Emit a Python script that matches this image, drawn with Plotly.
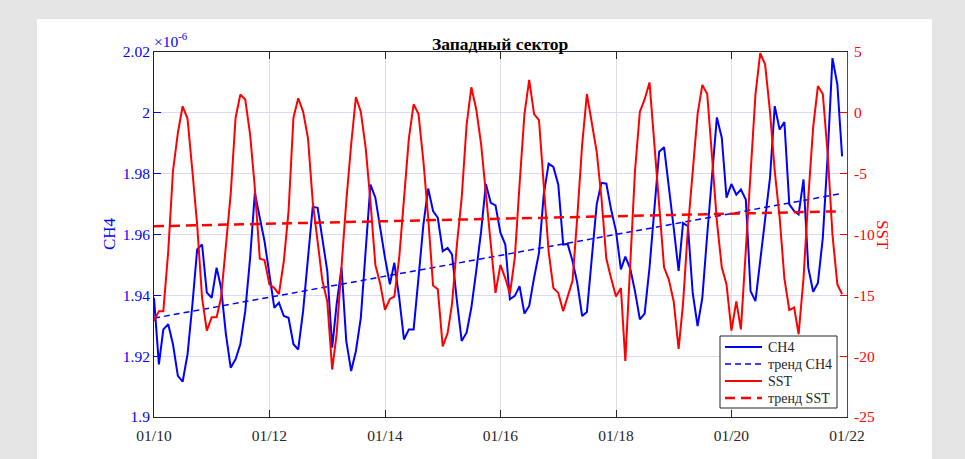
import pandas as pd
import plotly.graph_objects as go

# ---------------- data (monthly, Jan 2010 - Dec 2021) ----------------
months = pd.date_range("2010-01-01", periods=144, freq="MS")

# CH4, units of 1e-6
ch4 = [
    1.9392, 1.9173, 1.9288, 1.9305, 1.9239, 1.9135, 1.9116, 1.9206, 1.9370, 1.9551, 1.9567, 1.9409,
    1.9392, 1.9491, 1.9425, 1.9272, 1.9162, 1.9190, 1.9239, 1.9348, 1.9523, 1.9737, 1.9655, 1.9578,
    1.9469, 1.9359, 1.9376, 1.9332, 1.9326, 1.9239, 1.9222, 1.9348, 1.9523, 1.9691, 1.9688, 1.9578,
    1.9480, 1.9228, 1.9370, 1.9491, 1.9250, 1.9151, 1.9217, 1.9326, 1.9545, 1.9764, 1.9721, 1.9622,
    1.9523, 1.9436, 1.9507, 1.9392, 1.9255, 1.9288, 1.9288, 1.9458, 1.9633, 1.9751, 1.9677, 1.9655,
    1.9545, 1.9556, 1.9534, 1.9381, 1.9250, 1.9277, 1.9359, 1.9480, 1.9611, 1.9766, 1.9704, 1.9696,
    1.9606, 1.9567, 1.9387, 1.9398, 1.9430, 1.9340, 1.9365, 1.9458, 1.9540, 1.9731, 1.9833, 1.9822,
    1.9764, 1.9567, 1.9569, 1.9513, 1.9441, 1.9332, 1.9345, 1.9523, 1.9699, 1.9770, 1.9767, 1.9682,
    1.9611, 1.9485, 1.9527, 1.9488, 1.9414, 1.9321, 1.9340, 1.9491, 1.9699, 1.9872, 1.9887, 1.9764,
    1.9622, 1.9480, 1.9638, 1.9627, 1.9409, 1.9299, 1.9392, 1.9600, 1.9786, 1.9985, 1.9918, 1.9721,
    1.9766, 1.9731, 1.9748, 1.9715, 1.9414, 1.9381, 1.9513, 1.9644, 1.9786, 2.0022, 1.9945, 1.9970,
    1.9699, 1.9677, 1.9666, 1.9781, 1.9491, 1.9412, 1.9441, 1.9589, 1.9863, 2.0180, 2.0093, 1.9857,
]

sst = [
    -17.1, -16.3, -16.3, -11.4, -4.8, -1.65, 0.54, -0.47, -4.8, -9.2, -15.2, -17.9,
    -16.8, -16.8, -15.2, -10.8, -6.7, -0.4, 1.5, 1.1, -1.8, -6.2, -12.0, -12.1,
    -14.1, -14.4, -14.9, -12.2, -8.1, -0.4, 1.2, 0.1, -2.1, -7.3, -10.8, -13.8,
    -15.5, -21.1, -18.2, -12.2, -7.3, -2.6, 1.3, 0.1, -2.9, -7.3, -12.5, -14.0,
    -16.2, -15.3, -15.1, -11.9, -7.0, -2.1, 0.7, -0.1, -4.0, -8.6, -14.2, -14.5,
    -19.2, -18.1, -15.7, -10.8, -7.0, -1.0, 2.1, 0.3, -2.6, -6.7, -10.3, -14.8,
    -12.5, -13.6, -14.9, -11.9, -5.9, -0.1, 2.7, -0.1, -0.6, -6.2, -11.4, -14.4,
    -14.8, -16.3, -15.2, -13.8, -8.6, -2.6, 1.55, -0.7, -3.2, -7.0, -12.0, -13.6,
    -15.1, -14.4, -20.4, -12.5, -4.8, 0.1, 1.1, 2.5, -2.6, -7.5, -12.7, -13.7,
    -15.5, -19.4, -15.7, -9.45, -5.1, -0.1, 2.3, 1.55, -3.7, -8.9, -12.7, -14.1,
    -17.9, -15.5, -17.8, -11.4, -5.1, 1.5, 4.9, 4.0, 0.1, -4.8, -8.6, -13.6,
    -16.2, -16.0, -18.2, -13.6, -7.0, -1.2, 2.2, 1.55, -3.4, -10.0, -14.1, -14.9,
]

# linear trends (start / end values)
trend_x = [months[0], months[-1]]
ch4_trend = [1.9325, 1.9735]
sst_trend = [-9.32, -8.09]

# axis ticks
x_tickvals = ["2010-01-01", "2012-01-01", "2014-01-01", "2016-01-01",
              "2018-01-01", "2020-01-01", "2022-01-01"]
x_ticktext = ["01/10", "01/12", "01/14", "01/16", "01/18", "01/20", "01/22"]
y1_tickvals = [1.90, 1.92, 1.94, 1.96, 1.98, 2.00, 2.02]
y1_ticktext = ["1.9", "1.92", "1.94", "1.96", "1.98", "2", "2.02"]
y2_tickvals = [-25, -20, -15, -10, -5, 0, 5]
y2_ticktext = ["-25", "-20", "-15", "-10", "-5", "0", "5"]

title_text = "Западный сектор"
legend_names = ["CH4", "тренд CH4", "SST", "тренд SST"]

# ---------------- figure ----------------
FONT = "Liberation Serif, Times New Roman, serif"
BLUE = "#0000ff"
RED = "#ff0000"
DARK = "#262626"
TICK = 15.5

W, H = 965, 459
L, R, T, B = 154, 118, 52, 42
pw, ph = W - L - R, H - T - B


def px(xp):
    return (xp - L) / pw


def py(yp):
    return (H - B - yp) / ph


styles = [
    dict(color=BLUE, width=2),
    dict(color=BLUE, width=1.5, dash="6px,4px"),
    dict(color=RED, width=2),
    dict(color=RED, width=2.5, dash="10px,6px"),
]

fig = go.Figure()
fig.add_trace(go.Scatter(x=months, y=ch4, mode="lines", name=legend_names[0],
                         line=styles[0], yaxis="y"))
fig.add_trace(go.Scatter(x=trend_x, y=ch4_trend, mode="lines", name=legend_names[1],
                         line=styles[1], yaxis="y"))
fig.add_trace(go.Scatter(x=months, y=sst, mode="lines", name=legend_names[2],
                         line=styles[2], yaxis="y2"))
fig.add_trace(go.Scatter(x=trend_x, y=sst_trend, mode="lines", name=legend_names[3],
                         line=styles[3], yaxis="y2"))

shapes = [
    dict(type="rect", xref="paper", yref="paper",
         x0=px(37), x1=px(932), y0=py(470), y1=py(19),
         fillcolor="white", line=dict(width=0), layer="below"),
    # legend box
    dict(type="rect", xref="paper", yref="paper",
         x0=px(720), x1=px(837), y0=py(408), y1=py(336),
         fillcolor="white", line=dict(color=DARK, width=1), layer="above"),
]
annotations = [
    dict(text="<b>" + title_text + "</b>", xref="paper", yref="paper",
         x=0.5, y=py(43.5), xanchor="center", yanchor="middle", showarrow=False,
         font=dict(family=FONT, size=17.5, color="black")),
    dict(text="×10<sup>-6</sup>", xref="paper", yref="paper",
         x=px(152), y=py(52), xanchor="left", yanchor="bottom", showarrow=False,
         font=dict(family=FONT, size=15.5, color=BLUE)),
    dict(text="CH4", xref="paper", yref="paper",
         x=px(110), y=py(234), xanchor="center", yanchor="middle",
         textangle=-90, showarrow=False,
         font=dict(family=FONT, size=17, color=BLUE)),
    dict(text="SST", xref="paper", yref="paper",
         x=px(883), y=py(235), xanchor="center", yanchor="middle",
         textangle=90, showarrow=False,
         font=dict(family=FONT, size=17, color=RED)),
]
for k, (name, st) in enumerate(zip(legend_names, styles)):
    yrow = 347 + 17 * k
    shapes.append(dict(type="line", xref="paper", yref="paper",
                       x0=px(725), x1=px(762), y0=py(yrow), y1=py(yrow),
                       line=st, layer="above"))
    annotations.append(dict(text=name, xref="paper", yref="paper",
                            x=px(766), y=py(yrow), xanchor="left", yanchor="middle",
                            showarrow=False,
                            font=dict(family=FONT, size=14, color=DARK)))

fig.update_layout(
    width=W, height=H,
    margin=dict(l=L, r=R, t=T, b=B, autoexpand=False),
    paper_bgcolor="#e5e5e5",
    plot_bgcolor="rgba(0,0,0,0)",
    font=dict(family=FONT, size=TICK, color=DARK),
    showlegend=False,
    xaxis=dict(
        type="date", range=["2010-01-01", "2022-01-01"],
        tickvals=x_tickvals, ticktext=x_ticktext,
        showgrid=True, gridcolor="#dedede", gridwidth=1,
        showline=True, linecolor=DARK, linewidth=1, mirror="ticks",
        ticks="inside", ticklen=7, tickcolor=DARK, ticklabelstandoff=4,
        tickfont=dict(family=FONT, size=TICK, color=DARK),
        zeroline=False, fixedrange=True,
    ),
    yaxis=dict(
        range=[1.90, 2.02], tickvals=y1_tickvals, ticktext=y1_ticktext,
        showgrid=True, gridcolor="#dadaff", gridwidth=1,
        showline=True, linecolor=BLUE, linewidth=1,
        ticks="inside", ticklen=7, tickcolor=BLUE,
        tickfont=dict(family=FONT, size=TICK, color=BLUE),
        zeroline=False, fixedrange=True,
    ),
    yaxis2=dict(
        range=[-25, 5], tickvals=y2_tickvals, ticktext=y2_ticktext,
        overlaying="y", side="right",
        showgrid=False,
        showline=True, linecolor=RED, linewidth=1,
        ticks="inside", ticklen=7, tickcolor=RED, ticklabelstandoff=3,
        tickfont=dict(family=FONT, size=TICK, color=RED),
        zeroline=False, fixedrange=True,
    ),
    shapes=shapes,
    annotations=annotations,
)

fig.write_html(
    "out.html",
    config={"displayModeBar": False},
    post_script="document.body.style.margin='0';document.body.style.overflow='hidden';",
)
